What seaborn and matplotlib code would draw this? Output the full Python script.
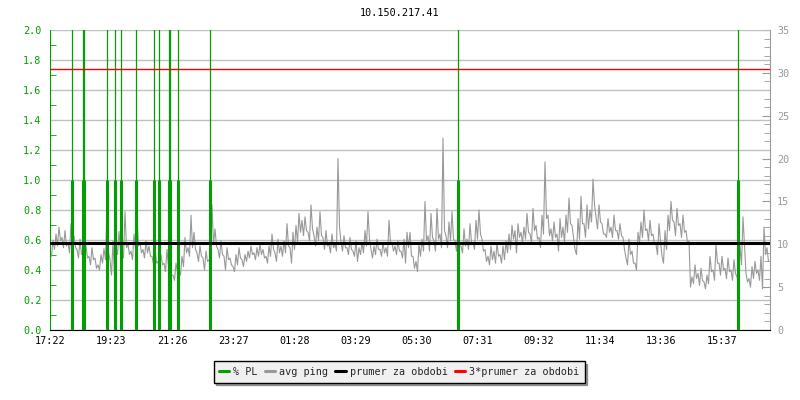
import numpy as np
import matplotlib
matplotlib.use("Agg")
import matplotlib.pyplot as plt
from matplotlib.lines import Line2D
from matplotlib.ticker import MultipleLocator, FixedLocator, FormatStrFormatter
import seaborn as sns

host = "10.150.217.41"

# popisky casove osy (start 17:22)
time_labels = ["17:22", "19:23", "21:26", "23:27", "01:28", "03:29",
               "05:30", "07:31", "09:32", "11:34", "13:36", "15:37"]
span_min = 1430

# prumerny ping [ms] - horni vzorky (kazdych ~6 min)
ping_hi = [
    9.0, 10.5, 11.2, 12.0, 10.8, 11.6, 10.2, 12.4, 11.0, 9.4, 10.6, 9.0, 9.8, 8.6, 9.6,
    8.4, 7.6, 8.8, 9.5, 14.5, 8.2, 10.4, 9.6, 11.5, 9.0, 13.8, 10.0, 9.2, 11.2, 13.4,
    10.2, 9.4, 10.4, 9.8, 8.6, 9.6, 8.0, 8.8, 7.8, 9.4, 7.2, 6.4, 7.8, 7.0, 8.6,
    10.8, 9.6, 13.4, 11.4, 9.0, 9.8, 8.4, 9.2, 8.2, 14.6, 11.8, 9.4, 10.4, 8.6, 9.6,
    8.4, 7.4, 8.8, 9.6, 8.2, 8.8, 9.2, 9.8, 9.0, 9.6, 10.0, 9.4, 8.6, 9.8, 11.2,
    9.0, 10.6, 9.8, 10.4, 12.4, 9.6, 11.4, 12.2, 13.6, 12.8, 13.2, 11.4, 14.6, 11.0, 12.0,
    13.8, 10.8, 11.6, 10.0, 11.2, 10.0, 20.0, 10.2, 11.0, 9.6, 10.8, 9.2, 10.4, 9.6, 10.2,
    11.6, 13.8, 9.4, 9.8, 10.6, 9.4, 10.2, 9.6, 12.8, 10.2, 9.8, 10.4, 9.2, 10.6, 11.4,
    11.4, 8.6, 8.0, 10.0, 10.6, 15.0, 11.0, 13.6, 10.4, 14.2, 11.2, 22.4, 11.0, 12.6, 13.8,
    10.4, 11.4, 9.8, 11.8, 10.6, 12.4, 10.2, 12.8, 14.0, 10.6, 9.4, 8.6, 9.8, 9.2, 10.2,
    8.8, 9.8, 10.4, 11.2, 12.2, 11.6, 12.4, 11.4, 12.0, 13.6, 11.2, 14.2, 12.2, 10.8, 13.4,
    19.6, 13.4, 11.8, 12.6, 11.2, 13.0, 12.0, 13.4, 15.4, 12.2, 9.4, 13.0, 15.6, 12.4, 14.6,
    14.0, 17.6, 13.2, 14.6, 12.4, 11.2, 13.0, 12.0, 13.4, 11.6, 12.4, 10.8, 8.4, 10.6, 9.2,
    7.8, 11.4, 12.6, 14.0, 11.8, 12.8, 11.2, 10.0, 12.4, 8.6, 11.6, 13.4, 15.0, 12.6, 14.2,
    12.4, 13.4, 11.6, 10.4, 6.2, 7.6, 6.6, 7.2, 5.6, 6.4, 8.6, 7.0, 10.0, 7.8, 8.6,
    7.2, 8.4, 7.0, 8.2, 6.2, 9.8, 13.2, 6.6, 6.0, 7.4, 8.0, 7.0, 8.6, 12.0, 9.6,
]

# prumerny ping [ms] - dolni vzorky (mezi hornimi)
ping_lo = [
    8.6, 9.4, 9.8, 10.4, 9.6, 9.8, 9.0, 10.0, 9.6, 8.4, 8.8, 8.0, 8.4, 7.6, 8.2,
    7.2, 7.0, 7.8, 8.2, 9.0, 6.4, 6.2, 8.8, 9.2, 8.4, 9.6, 8.8, 8.2, 9.4, 9.8,
    9.0, 8.4, 9.0, 8.6, 7.6, 7.8, 7.0, 7.6, 6.8, 7.4, 6.4, 5.8, 6.8, 6.4, 7.4,
    9.0, 8.6, 9.6, 9.4, 8.0, 8.6, 7.0, 8.0, 7.4, 10.0, 9.8, 8.4, 8.8, 7.0, 8.2,
    7.6, 6.8, 7.6, 8.4, 7.4, 8.0, 8.4, 8.8, 8.2, 8.6, 8.8, 8.4, 7.8, 8.6, 9.4,
    8.0, 9.0, 8.6, 9.0, 9.8, 7.8, 9.4, 10.2, 11.4, 11.0, 11.6, 10.4, 11.8, 9.8, 10.4,
    11.0, 9.4, 9.8, 9.0, 9.6, 9.2, 12.0, 9.2, 9.6, 8.8, 9.4, 8.6, 8.0, 8.8, 9.0,
    9.8, 10.6, 8.4, 8.8, 9.4, 8.6, 9.0, 8.6, 10.2, 9.2, 8.8, 9.2, 8.4, 7.8, 9.6,
    8.6, 7.2, 6.8, 8.6, 9.2, 10.4, 9.2, 10.8, 9.2, 10.6, 9.6, 11.6, 9.6, 10.4, 10.6,
    9.2, 9.8, 9.0, 9.8, 9.4, 10.2, 9.4, 10.6, 11.2, 9.2, 8.0, 7.6, 8.2, 7.8, 8.6,
    7.8, 8.2, 9.0, 9.4, 10.6, 9.0, 10.8, 10.2, 10.6, 11.4, 10.2, 11.6, 10.6, 9.6, 11.2,
    13.0, 11.0, 10.4, 10.8, 9.2, 10.8, 10.2, 11.4, 12.4, 10.8, 8.8, 10.6, 12.4, 10.8, 11.8,
    12.6, 14.6, 11.8, 12.6, 11.2, 10.8, 11.4, 10.8, 11.6, 10.6, 11.0, 9.4, 7.6, 8.8, 7.8,
    7.0, 10.2, 10.8, 11.6, 10.4, 11.0, 10.0, 8.8, 10.4, 7.8, 9.4, 11.6, 12.8, 11.0, 12.2,
    10.8, 11.4, 10.2, 5.0, 5.4, 6.0, 5.2, 5.8, 4.8, 5.4, 6.8, 5.8, 7.8, 6.4, 7.0,
    6.0, 6.8, 5.8, 6.6, 5.2, 7.6, 9.8, 5.6, 5.0, 6.0, 6.6, 5.8, 4.8, 8.8, 8.0,
]

# ztrata paketu [%]
pl_minutes = [43, 65, 68, 113, 129, 141, 170, 207, 216, 236, 239, 254, 317, 811, 1367]
pl_peak = [5.0, 5.0, 5.0, 5.0, 5.0, 5.0, 5.0, 5.0, 5.0, 5.0, 5.0, 5.0, 5.0, 5.0, 5.0]
pl_level = [1.0, 1.0, 1.0, 1.0, 1.0, 1.0, 1.0, 1.0, 1.0, 1.0, 1.0, 1.0, 1.0, 1.0, 1.0]

avg_ms = 10.15
legend_labels = ["% PL", "avg ping", "prumer za obdobi", "3*prumer za obdobi"]

green = "#00a000"
gray = "#999999"
ms_per_pct = 35 / 2.0
fs = 7.3

sns.set_style("white")
plt.rcParams['font.family'] = ['DejaVu Sans Mono', 'DejaVu Sans']

fig = plt.figure(figsize=(8, 4), dpi=100)
ax = fig.add_axes([0.0625, 0.175, 0.9, 0.75])

# prolozeni hornich a dolnich vzorku do jedne casove rady
ping_ms = np.column_stack([ping_hi, ping_lo]).ravel()
minutes = np.arange(len(ping_ms)) * span_min / len(ping_ms)
ping_pct = ping_ms / ms_per_pct

sns.lineplot(x=minutes, y=ping_pct, ax=ax, color=gray, lw=0.8, estimator=None, zorder=2)
ax.vlines(pl_minutes, 0, pl_peak, color=green, lw=0.9, zorder=3)
ax.vlines(pl_minutes, 0, pl_level, color=green, lw=2.2, zorder=3)
ax.axhline(avg_ms / ms_per_pct, color="black", lw=2.2, zorder=4)
ax.axhline(3 * avg_ms / ms_per_pct, color="red", lw=1.0, zorder=5)

ax.set_xlim(0, span_min)
ax.set_ylim(0, 2.0)

# pozice popisku casu = minuty od zacatku
h0, m0 = map(int, time_labels[0].split(":"))
tick_pos = [((int(t[:2]) * 60 + int(t[3:])) - (h0 * 60 + m0)) % 1440 for t in time_labels]
ax.set_xticks(tick_pos)
ax.set_xticklabels(time_labels)

ax.yaxis.set_major_locator(MultipleLocator(0.2))
ax.yaxis.set_minor_locator(MultipleLocator(0.1))
ax.yaxis.set_major_formatter(FormatStrFormatter("%.1f"))
ax.yaxis.grid(True, which="major", color="#c0c0c0", lw=1.0, zorder=0)
ax.set_axisbelow(True)

ax.tick_params(axis="y", which="both", direction="in", colors=green, labelsize=fs, pad=6)
ax.tick_params(axis="y", which="major", length=5)
ax.tick_params(axis="y", which="minor", length=4, left=True)
ax.tick_params(axis="x", direction="in", length=5, colors="black", labelsize=fs, pad=4)

ax.spines["left"].set_color(green)
ax.spines["bottom"].set_color("black")
ax.spines["top"].set_visible(False)
ax.spines["right"].set_visible(False)

sec = ax.secondary_yaxis("right", functions=(lambda v: v * ms_per_pct, lambda v: v / ms_per_pct))
sec.yaxis.set_major_locator(FixedLocator([0, 5, 10, 15, 20, 25, 30, 35]))
sec.yaxis.set_minor_locator(MultipleLocator(1))
sec.tick_params(axis="y", which="both", direction="in", colors=gray, labelsize=fs, pad=5)
sec.tick_params(axis="y", which="major", length=6)
sec.tick_params(axis="y", which="minor", length=4)
sec.spines["right"].set_color(gray)

fig.text(0.5, 0.968, host, ha="center", va="center", fontsize=fs, color="black")

handles = [Line2D([], [], color=green, lw=2.2),
           Line2D([], [], color=gray, lw=2.2),
           Line2D([], [], color="black", lw=2.2),
           Line2D([], [], color="red", lw=2.2)]
leg = fig.legend(handles, legend_labels, loc="center", bbox_to_anchor=(0.499, 0.07), ncol=4,
                 frameon=True, fancybox=False, shadow=True, fontsize=fs,
                 handlelength=1.0, handletextpad=0.4, columnspacing=0.7,
                 borderpad=0.55, borderaxespad=0)
leg.get_frame().set_edgecolor("black")
leg.get_frame().set_facecolor("#f0f0f0")
leg.get_frame().set_linewidth(1.0)

fig.savefig("out.png", dpi=100)
